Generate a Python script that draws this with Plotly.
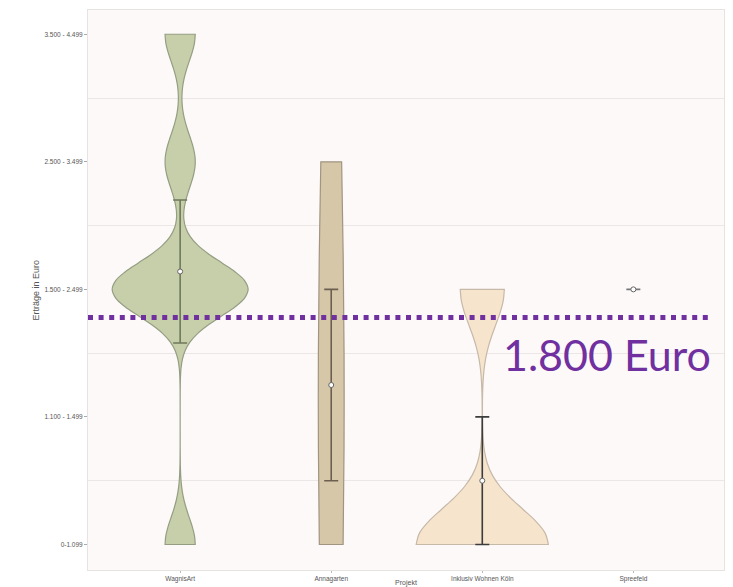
import plotly.graph_objects as go

# ---------------- data ----------------
projects = ["WagnisArt", "Annagarten", "Inklusiv Wohnen Köln", "Spreefeld"]
levels = [1, 2, 3, 4, 5]
level_labels = ["0-1.099", "1.100 - 1.499", "1.500 - 2.499", "2.500 - 3.499", "3.500 - 4.499"]

# number of answers per income level (bottom to top)
wagnisart_counts = [2, 0, 9, 2, 2]
annagarten_counts = [2, 1, 1, 1, 0]
inklusiv_counts = [9, 0, 3, 0, 0]
spreefeld_counts = [0, 0, 1, 0, 0]

# mean and 95% interval per project
means = [3.14, 2.25, 1.5, 3.0]
ci_low = [2.58, 1.5, 1.0, 3.0]
ci_high = [3.70, 3.0, 2.0, 3.0]

threshold_level = 2.78
threshold_label = "1.800 Euro"

# ---------------- styles ----------------
fills = ["#c6cfa9", "#d6c7a9", "#f7e4cd", "#ffffff"]
outlines = ["#959e83", "#a19581", "#c6b9a8", "#999999"]
bar_colors = ["#6f7a5c", "#6b5f50", "#3c3c3c", "#777777"]
widths = [0.9, 0.17, 0.875, 0.1]
bandwidths = [0.21, 2.5, 0.28, 0.2]
all_counts = [wagnisart_counts, annagarten_counts, inklusiv_counts, spreefeld_counts]


def expand(counts):
    vals = []
    for lv, c in zip(levels, counts):
        vals += [lv] * c
    return vals


fig = go.Figure()
for i, name in enumerate(projects):
    vals = expand(all_counts[i])
    if len(vals) < 2:
        continue
    fig.add_trace(go.Violin(
        x=[name] * len(vals), y=vals,
        width=widths[i], bandwidth=bandwidths[i],
        spanmode="hard", scalemode="width", scalegroup=name,
        fillcolor=fills[i], line=dict(color=outlines[i], width=1.2),
        points=False, box_visible=False, meanline_visible=False,
        opacity=1, showlegend=False, hoverinfo="skip",
    ))

for i, name in enumerate(projects):
    fig.add_trace(go.Scatter(
        x=[name], y=[means[i]], mode="markers",
        marker=dict(color="white", size=5, line=dict(color="#666666", width=1)),
        error_y=dict(type="data", symmetric=False,
                     array=[ci_high[i] - means[i]],
                     arrayminus=[means[i] - ci_low[i]],
                     color=bar_colors[i], thickness=1.6, width=7),
        showlegend=False, hoverinfo="skip",
    ))

fig.add_shape(type="line", xref="paper", yref="y",
              x0=0.0, x1=0.982, y0=threshold_level, y1=threshold_level,
              line=dict(color="#7030a0", width=5, dash="5px,5.6px"))

fig.add_annotation(text=threshold_label, xref="paper", yref="y",
                   x=0.983, y=threshold_level - 0.29, xanchor="right", yanchor="middle",
                   showarrow=False, font=dict(family="Lato", size=43, color="#7030a0"))

fig.add_annotation(text="Erträge in Euro", xref="paper", yref="paper",
                   x=-0.081, y=0.5, xanchor="center", yanchor="middle", textangle=-90,
                   showarrow=False, font=dict(family="Liberation Sans", size=9, color="#555555"))

fig.update_layout(
    width=733, height=587,
    margin=dict(l=88, r=9, t=10, b=17),
    paper_bgcolor="white", plot_bgcolor="#fdf9f9",
    violinmode="overlay", violingap=0, violingroupgap=0,
    font=dict(family="Liberation Sans", size=6.5, color="#555555"),
)
fig.update_xaxes(type="category", categoryorder="array", categoryarray=projects,
                 range=[-0.61, 3.6], showgrid=False, zeroline=False, automargin=False,
                 showline=True, mirror=True, linecolor="#e8e3e3", linewidth=1,
                 ticks="outside", ticklen=2, tickcolor="#bbbbbb",
                 tickfont=dict(size=6.5, color="#555555"),
                 title=dict(text="Projekt", standoff=0, font=dict(size=7, color="#555555")))
fig.update_yaxes(range=[0.8, 5.19], tickvals=levels, ticktext=level_labels,
                 showgrid=False, zeroline=False, automargin=False,
                 showline=True, mirror=True, linecolor="#e8e3e3", linewidth=1,
                 ticks="outside", ticklen=3, tickcolor="#aaaaaa",
                 tickfont=dict(size=6.5, color="#555555"),
                 minor=dict(tickvals=[1.5, 2.5, 3.5, 4.5], showgrid=True,
                            gridcolor="#ece7e7", gridwidth=1, ticks=""))

fig.write_html("out.html")
